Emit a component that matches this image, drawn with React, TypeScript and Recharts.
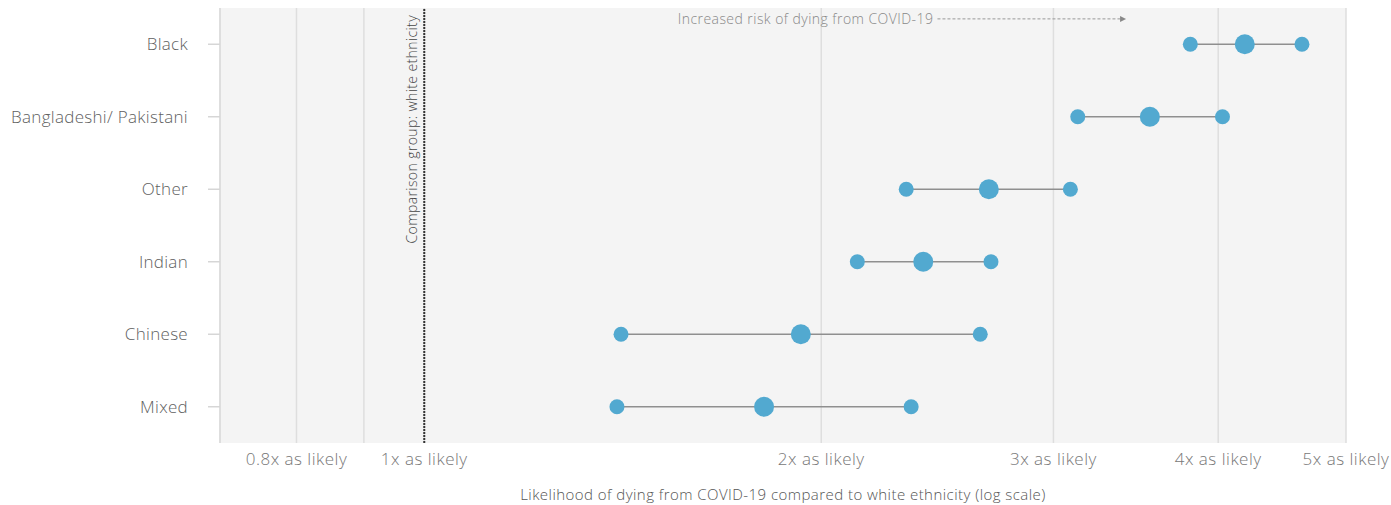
import React from 'react';
import {
  ScatterChart,
  Scatter,
  XAxis,
  YAxis,
  CartesianGrid,
  ReferenceLine,
} from 'recharts';

const categories = ['Black', 'Bangladeshi/ Pakistani', 'Other', 'Indian', 'Chinese', 'Mixed'];
const lowValues = [3.81, 3.13, 2.32, 2.13, 1.41, 1.4];
const midValues = [4.19, 3.55, 2.68, 2.39, 1.93, 1.81];
const highValues = [4.63, 4.03, 3.09, 2.69, 2.64, 2.34];
const xTicks = [0.8, 0.9, 1, 2, 3, 4, 5];

const FONT = '"Open Sans", Roboto, sans-serif';
const DOT = '#52a9d0';

const rangeData = categories.map((name, i) => [
  { x: lowValues[i], y: i, name },
  { x: highValues[i], y: i, name },
]);
const midData = categories.map((name, i) => ({ x: midValues[i], y: i, name }));

const dot = (r: number) => (props: any) => (
  <circle cx={props.cx} cy={props.cy} r={r} fill={DOT} />
);

const formatX = (v: number) => (v === 0.9 ? '' : `${v}x as likely`);

const ComparisonLabel = (props: any) => {
  const { x, y } = props.viewBox;
  const tx = x - 7;
  const ty = y + 7;
  return (
    <text
      x={tx}
      y={ty}
      transform={`rotate(-90, ${tx}, ${ty})`}
      textAnchor="end"
      fontSize={14}
      letterSpacing={0.4}
      fill="#444"
      fontFamily={FONT}
      fontWeight={300}
    >
      Comparison group: white ethnicity
    </text>
  );
};

const RiskLabel = (props: any) => {
  const { x, y, width } = props.viewBox;
  const end = x + width;
  return (
    <g>
      <text
        x={x - 4}
        y={y + 5}
        textAnchor="end"
        fontSize={14}
        letterSpacing={0.45}
        fill="#888"
        fontFamily={FONT}
        fontWeight={300}
      >
        Increased risk of dying from COVID-19
      </text>
      <polygon points={`${end},${y - 3} ${end + 6},${y} ${end},${y + 3}`} fill="#888" />
    </g>
  );
};

export default function App() {
  return (
    <div style={{ position: 'absolute', left: 0, top: 0 }}>
      <ScatterChart
        width={1391}
        height={505}
        margin={{ top: 8, right: 45, bottom: 22, left: 0 }}
        style={{ fontFamily: FONT }}
      >
        <CartesianGrid horizontal={false} fill="#f4f4f4" stroke="#dedede" strokeWidth={1.5} />
        <XAxis
          type="number"
          dataKey="x"
          scale="log"
          domain={[0.7, 5]}
          ticks={xTicks}
          interval={0}
          allowDataOverflow
          tickFormatter={formatX}
          axisLine={false}
          tickLine={false}
          tickSize={6}
          tickMargin={4}
          height={40}
          tick={{ fontSize: 17, fill: '#777', fontWeight: 300, letterSpacing: 0.5 }}
          label={{
            value: 'Likelihood of dying from COVID-19 compared to white ethnicity (log scale)',
            position: 'bottom',
            offset: 6,
            fontSize: 15,
            letterSpacing: 0.45,
            fill: '#555',
            fontWeight: 300,
          }}
        />
        <YAxis
          type="number"
          dataKey="y"
          domain={[-0.5, 5.5]}
          ticks={[0, 1, 2, 3, 4, 5]}
          interval={0}
          reversed
          width={220}
          tickFormatter={(i: number) => categories[i]}
          axisLine={{ stroke: '#dedede', strokeWidth: 2 }}
          tickLine={{ stroke: '#d6d6d6', strokeWidth: 1.5 }}
          tickSize={12}
          tickMargin={20}
          tick={{ fontSize: 17, fill: '#5f5f5f', fontWeight: 300, letterSpacing: 0.3 }}
        />
        <ReferenceLine
          x={1}
          stroke="#333"
          strokeWidth={2}
          strokeDasharray="2 1"
          label={<ComparisonLabel />}
        />
        <ReferenceLine
          segment={[
            { x: 2.45, y: -0.35 },
            { x: 3.37, y: -0.35 },
          ]}
          stroke="#999"
          strokeWidth={1}
          strokeDasharray="3 2"
          label={<RiskLabel />}
        />
        {rangeData.map((d, i) => (
          <Scatter
            key={categories[i]}
            data={d}
            line={{ stroke: '#8f8f8f', strokeWidth: 1.5 }}
            shape={dot(7.5)}
            isAnimationActive={false}
          />
        ))}
        <Scatter data={midData} shape={dot(10)} isAnimationActive={false} />
      </ScatterChart>
    </div>
  );
}
